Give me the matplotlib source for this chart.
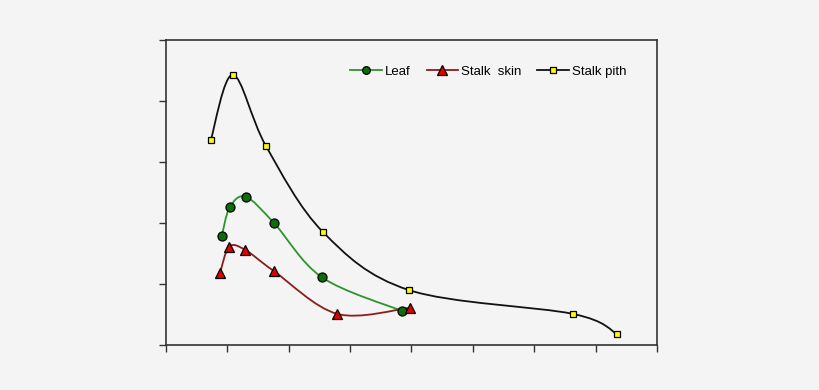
import matplotlib
matplotlib.use('Agg')
import matplotlib.pyplot as plt
from matplotlib.path import Path
from matplotlib.patches import PathPatch
import numpy as np

plt.rcParams['font.family'] = ['Liberation Sans', 'DejaVu Sans']

# data (axis units = tick intervals, no labels shown)
leaf_x = [0.91, 1.04, 1.30, 1.76, 2.54, 3.84]
leaf_y = [1.79, 2.26, 2.43, 2.00, 1.11, 0.56]

skin_x = [0.88, 1.03, 1.29, 1.76, 2.79, 3.97]
skin_y = [1.18, 1.61, 1.56, 1.21, 0.51, 0.61]

pith_x = [0.73, 1.09, 1.63, 2.56, 3.96, 6.63, 7.35]
pith_y = [3.36, 4.43, 3.26, 1.85, 0.90, 0.51, 0.18]


def smooth_path(xs, ys):
    """Excel-style smoothed line as cubic Bezier segments"""
    p = np.column_stack([xs, ys])
    n = len(p)
    verts = [p[0]]
    codes = [Path.MOVETO]
    for i in range(n - 1):
        p0 = p[i - 1] if i > 0 else p[i]
        p1, p2 = p[i], p[i + 1]
        p3 = p[i + 2] if i + 2 < n else p[i + 1]
        verts += [p1 + (p2 - p0) / 6, p2 - (p3 - p1) / 6, p2]
        codes += [Path.CURVE4] * 3
    return Path(verts, codes)


bg = '#f4f4f4'
fig = plt.figure(figsize=(8.2, 3.9), dpi=100, facecolor=bg)
ax = fig.add_axes([0.2024, 0.1154, 0.5988, 0.782], facecolor=bg)

series = [
    (leaf_x, leaf_y, '#2a962a', 'o', '#0a6e0a', 6.5, 5.5, 'Leaf'),
    (skin_x, skin_y, '#8c1c1c', '^', '#e00000', 7.5, 6.5, 'Stalk  skin'),
    (pith_x, pith_y, '#111111', 's', '#ffff00', 5.0, 5.0, 'Stalk pith'),
]
for xs, ys, lc, mk, mc, ms, lms, lab in series:
    ax.add_patch(PathPatch(smooth_path(xs, ys), facecolor='none',
                           edgecolor=lc, linewidth=1.3, zorder=2))
    ax.plot(xs, ys, linestyle='none', marker=mk, markersize=ms,
            markerfacecolor=mc, markeredgecolor='black', markeredgewidth=0.9,
            zorder=3)
    ax.plot([], [], color=lc, linewidth=1.3, marker=mk, markersize=lms,
            markerfacecolor=mc, markeredgecolor='black', markeredgewidth=0.9,
            label=lab)

ax.set_xlim(0, 8)
ax.set_ylim(0, 5)
ax.set_xticks(np.arange(0, 9))
ax.set_yticks(np.arange(0, 6))
ax.tick_params(direction='out', length=5, width=1, color='#333333',
               labelbottom=False, labelleft=False)
for s in ax.spines.values():
    s.set_color('#333333')
    s.set_linewidth(1.2)

ax.legend(loc='upper right', bbox_to_anchor=(0.962, 0.955), ncol=3,
          frameon=False, fontsize=9.5, handlelength=2.4, columnspacing=1.2,
          handletextpad=0.22)

plt.savefig('out.png', dpi=100, facecolor=bg)
plt.close()
